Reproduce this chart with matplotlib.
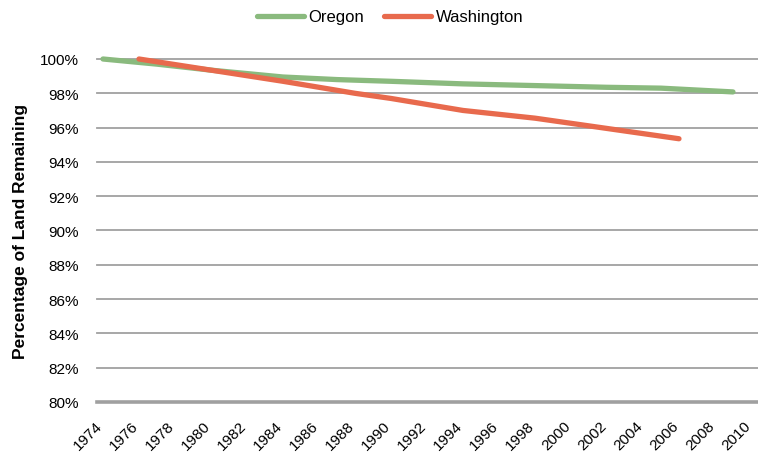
import matplotlib.pyplot as plt
from matplotlib.ticker import FuncFormatter
from matplotlib.transforms import ScaledTranslation

# data
oregon_years = [1974, 1977, 1980, 1984, 1987, 1990, 1994, 1998, 2002, 2005, 2009]
oregon_pct = [100.0, 99.7, 99.35, 98.95, 98.8, 98.7, 98.55, 98.45, 98.35, 98.3, 98.08]

wash_years = [1976, 1980, 1984, 1988, 1990, 1994, 1998, 2002, 2006]
wash_pct = [100.0, 99.35, 98.7, 98.0, 97.7, 97.0, 96.55, 95.95, 95.35]

x_ticks = list(range(1974, 2011, 2))
y_ticks = list(range(80, 101, 2))

plt.rcParams['font.family'] = ['Liberation Sans', 'DejaVu Sans']

fig = plt.figure(figsize=(7.58, 4.6), dpi=100)
ax = fig.add_axes([97 / 758, 1 - 403 / 460, 1 - 97 / 758, 343 / 460])

# horizontal gridlines
for y in y_ticks:
    ax.axhline(y, color="#a0a0a0", lw=2.6 if y == 80 else 1.3, zorder=1, clip_on=False)

ax.plot(oregon_years, oregon_pct, color="#8aba7e", lw=3.8, solid_capstyle="round",
        label="Oregon", zorder=3, clip_on=False)
ax.plot(wash_years, wash_pct, color="#e86a4d", lw=3.8, solid_capstyle="round",
        label="Washington", zorder=4, clip_on=False)

ax.set_xlim(1973.667, 2010.39)
ax.set_ylim(80, 100)
ax.set_xticks(x_ticks)
ax.set_xticklabels([str(x) for x in x_ticks], rotation=45, ha="right", va="baseline",
                   rotation_mode="anchor", fontsize=11)
shift = ScaledTranslation(3 / 100, 0, fig.dpi_scale_trans)
for lab in ax.get_xticklabels():
    lab.set_transform(lab.get_transform() + shift)
ax.set_yticks(y_ticks)
ax.yaxis.set_major_formatter(FuncFormatter(lambda v, p: f"{int(v)}%"))
ax.tick_params(axis="both", length=0, labelsize=11)
ax.tick_params(axis="y", pad=13)
ax.tick_params(axis="x", pad=17)
for s in ax.spines.values():
    s.set_visible(False)

ax.set_ylabel("Percentage of Land Remaining", fontsize=12.5, fontweight="bold")
ax.yaxis.set_label_coords(-69 / 661, 0.5)

fig.legend(loc="upper center", bbox_to_anchor=(0.515, 1.01), ncol=2, frameon=False,
           fontsize=12, handlelength=2.8, columnspacing=1.2, handletextpad=0.3)

fig.savefig("out.png", dpi=100)
plt.close(fig)
